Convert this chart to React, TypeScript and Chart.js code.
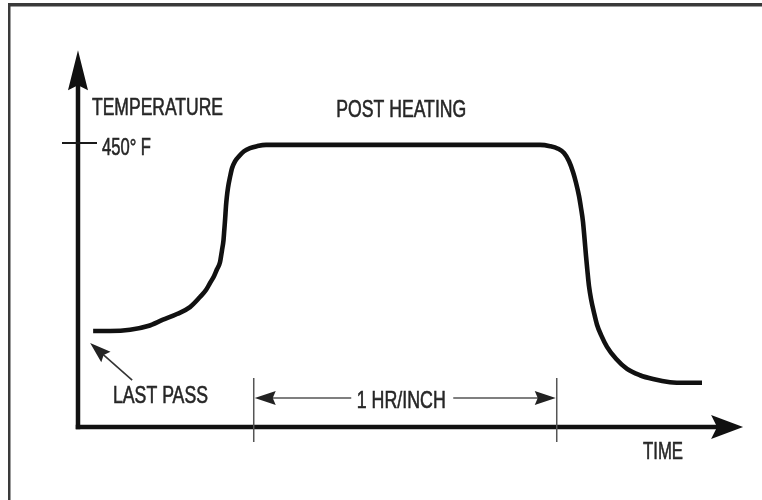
import React, { useEffect, useRef } from "react";
import { Chart, registerables } from "chart.js";

Chart.register(...registerables);

// Time since the last pass, in hours
const TIME_H = [
  0.05, 0.106, 0.172, 0.231, 0.2805, 0.3267, 0.3696, 0.4026, 0.4224, 0.4356, 0.4488,
  0.4587, 0.4686, 0.4752, 0.4802, 0.4828, 0.4858, 0.4884, 0.4911, 0.495, 0.5017, 0.5083,
  0.5182, 0.5314, 0.5479, 0.5677, 0.5908, 0.6205, 0.6667, 1.0627, 1.5248,
  1.5578, 1.5842, 1.604, 1.6205, 1.6337, 1.6436, 1.6535, 1.6601, 1.6667, 1.6716, 1.6766,
  1.6815, 1.6865, 1.6931, 1.703, 1.7129, 1.7261, 1.7459, 1.7756, 1.8119, 1.8548, 1.8977,
  1.9538, 2.0066, 2.0594,
];
// Workpiece temperature, in °F
const TEMP_F = [
  152, 152, 154, 160, 170, 179, 190, 206, 217, 228, 239,
  250, 261, 280, 296, 312, 331, 350, 364, 379, 396, 410,
  421, 429, 437, 442, 445, 447, 447, 447, 447,
  445, 441, 434, 421, 404, 387, 366, 347, 325, 299, 271,
  246, 223, 203, 181, 162, 146, 127, 108, 92, 82, 76,
  71, 70, 70,
];

const TITLE = "POST HEATING";
const Y_LABEL = "TEMPERATURE";
const X_LABEL = "TIME";
const TICK_VALUE = 450;
const TICK_LABEL = "450\u00B0 F";
const START_LABEL = "LAST PASS";
const SPAN_LABEL = "1 HR/INCH";
const SPAN_H = [0.58, 1.58];

// visible extents of the axes (data units)
const Y_AXIS_TOP_F = 597;
const X_AXIS_END_H = 2.195;
const X_RANGE = [-0.2574, 2.2574];
const Y_RANGE = [-115.7, 676.6];

const FONT = '"Liberation Sans", Arial, Helvetica, sans-serif';

function drawText(
  ctx: CanvasRenderingContext2D,
  s: string,
  x: number,
  y: number,
  align: "left" | "center",
  width: number,
  size = 24
) {
  ctx.save();
  ctx.font = `${size}px ${FONT}`;
  const mw = ctx.measureText(s).width;
  const sx = width / mw;
  const left = align === "center" ? x - width / 2 : x;
  ctx.translate(left, y);
  ctx.scale(sx, 1);
  ctx.textAlign = "left";
  ctx.textBaseline = "alphabetic";
  ctx.fillStyle = "#262626";
  ctx.strokeStyle = "#262626";
  ctx.lineWidth = 0.6;
  ctx.fillText(s, 0, 0);
  ctx.strokeText(s, 0, 0);
  ctx.restore();
}

function arrowHead(
  ctx: CanvasRenderingContext2D,
  tx: number,
  ty: number,
  fx: number,
  fy: number,
  len: number,
  half: number,
  notch: number,
  color: string
) {
  const dx = tx - fx;
  const dy = ty - fy;
  const d = Math.hypot(dx, dy) || 1;
  const ux = dx / d;
  const uy = dy / d;
  const px = -uy;
  const py = ux;
  const bx = tx - ux * len;
  const by = ty - uy * len;
  ctx.save();
  ctx.fillStyle = color;
  ctx.beginPath();
  ctx.moveTo(tx, ty);
  ctx.lineTo(bx + px * half, by + py * half);
  ctx.lineTo(tx - ux * (len - notch), ty - uy * (len - notch));
  ctx.lineTo(bx - px * half, by - py * half);
  ctx.closePath();
  ctx.fill();
  ctx.restore();
}

const diagramPlugin = {
  id: "diagram",
  beforeDatasetsDraw(chart: any) {
    const { ctx } = chart;
    const xs = chart.scales.x;
    const ys = chart.scales.y;
    const X = (v: number) => xs.getPixelForValue(v);
    const Y = (v: number) => ys.getPixelForValue(v);
    const ox = X(0);
    const oy = Y(0);
    ctx.save();
    // picture frame
    ctx.fillStyle = "#3a3a3a";
    ctx.fillRect(8, 3, 754, 3.5);
    ctx.fillRect(8, 3, 2.5, 497);

    // axes
    ctx.strokeStyle = "#111";
    ctx.lineCap = "butt";
    ctx.lineWidth = 4.5;
    const yTop = Y(Y_AXIS_TOP_F);
    const xEnd = X(X_AXIS_END_H);
    ctx.beginPath();
    ctx.moveTo(ox, oy + 2.25);
    ctx.lineTo(ox, yTop + 30);
    ctx.stroke();
    ctx.beginPath();
    ctx.moveTo(ox - 2.25, oy);
    ctx.lineTo(xEnd - 25, oy);
    ctx.stroke();
    arrowHead(ctx, ox, yTop, ox, oy, 40, 10, 5, "#111");
    arrowHead(ctx, xEnd, oy, ox, oy, 32, 12, 6, "#111");

    // 450 tick
    const ty = Y(TICK_VALUE);
    ctx.lineWidth = 2;
    ctx.strokeStyle = "#1a1a1a";
    ctx.beginPath();
    ctx.moveTo(ox - 16, ty);
    ctx.lineTo(ox + 19, ty);
    ctx.stroke();

    // span bracket
    const sx0 = X(SPAN_H[0]);
    const sx1 = X(SPAN_H[1]);
    ctx.strokeStyle = "#555";
    ctx.lineWidth = 1.5;
    ctx.beginPath();
    ctx.moveTo(sx0, oy - 49);
    ctx.lineTo(sx0, oy + 15);
    ctx.moveTo(sx1, oy - 49);
    ctx.lineTo(sx1, oy + 15);
    const ly = oy - 29;
    const mid = (sx0 + sx1) / 2 - 4;
    ctx.moveTo(sx0 + 5, ly);
    ctx.lineTo(mid - 50, ly);
    ctx.moveTo(mid + 52, ly);
    ctx.lineTo(sx1 - 5, ly);
    ctx.stroke();
    arrowHead(ctx, sx0 + 1, ly, sx1, ly, 21, 7, 3, "#222");
    arrowHead(ctx, sx1 - 1, ly, sx0, ly, 21, 7, 3, "#222");

    // last pass pointer
    const p0x = X(TIME_H[0]) - 3;
    const p0y = Y(TEMP_F[0]) + 12;
    ctx.strokeStyle = "#333";
    ctx.lineWidth = 1.6;
    ctx.beginPath();
    ctx.moveTo(p0x + 42, p0y + 37);
    ctx.lineTo(p0x + 8, p0y + 7);
    ctx.stroke();
    arrowHead(ctx, p0x, p0y, p0x + 42, p0y + 37, 21, 7, 3, "#222");

    // texts
    drawText(ctx, Y_LABEL, ox + 14, 114.5, "left", 131);
    drawText(ctx, TICK_LABEL, ox + 24, ty + 12, "left", 49);
    drawText(ctx, TITLE, mid, 117, "center", 130);
    drawText(ctx, SPAN_LABEL, mid, ly + 10, "center", 89);
    drawText(ctx, START_LABEL, ox + 35, 403, "left", 95);
    drawText(ctx, X_LABEL, 643, oy + 32, "left", 40);
    ctx.restore();
  },
};

export default function App() {
  const ref = useRef<HTMLCanvasElement | null>(null);
  useEffect(() => {
    if (!ref.current) return;
    const chart = new Chart(ref.current, {
      type: "line",
      data: {
        datasets: [
          {
            data: TIME_H.map((t, i) => ({ x: t, y: TEMP_F[i] })),
            borderColor: "#111",
            borderWidth: 4.6,
            borderCapStyle: "butt",
            borderJoinStyle: "round",
            pointRadius: 0,
            fill: false,
            cubicInterpolationMode: "monotone",
          },
        ],
      },
      options: {
        animation: false,
        responsive: false,
        devicePixelRatio: 1,
        layout: { padding: 0 },
        plugins: { legend: { display: false }, tooltip: { enabled: false } },
        scales: {
          x: { type: "linear", min: X_RANGE[0], max: X_RANGE[1], display: false },
          y: { type: "linear", min: Y_RANGE[0], max: Y_RANGE[1], display: false },
        },
      },
      plugins: [diagramPlugin],
    } as any);
    return () => chart.destroy();
  }, []);
  return (
    <div style={{ position: "absolute", left: 0, top: 0, width: 762, height: 500, background: "#fff" }}>
      <canvas ref={ref} width={762} height={500} style={{ display: "block" }} />
    </div>
  );
}
